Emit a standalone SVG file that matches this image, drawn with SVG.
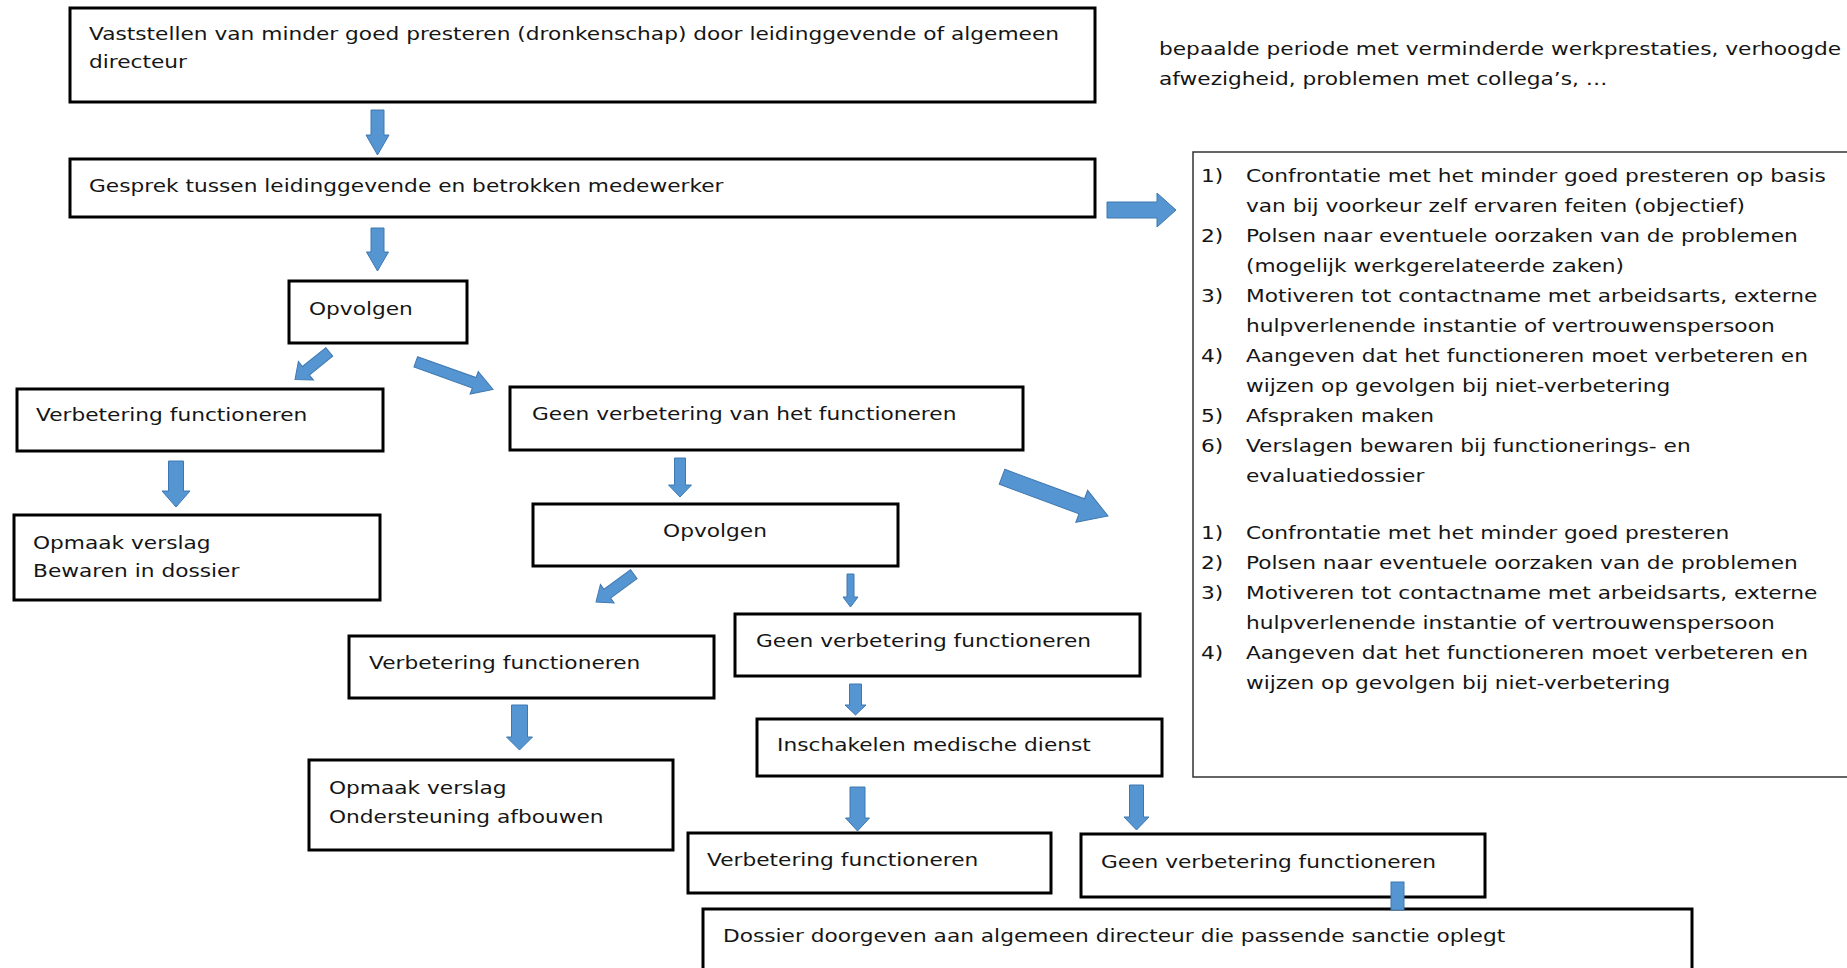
<svg xmlns="http://www.w3.org/2000/svg" width="1847" height="968" viewBox="0 0 1847 968">
<style>
.box{fill:#fff;stroke:#000;stroke-width:3}
.list{fill:#fff;stroke:#333;stroke-width:1.5}
.t{font-family:"DejaVu Sans",Verdana,sans-serif;font-size:17px;fill:#151515}
.arr{fill:#5595d2;stroke:#3f78b0;stroke-width:1}
</style>
<rect width="1847" height="968" fill="#fff"/>
<g id="nodes">
<g id="n-vaststellen"><rect class="box" x="70" y="8" width="1025" height="94"/>
<text class="t" transform="translate(89,0) scale(1.277,1)"><tspan x="0" y="40">Vaststellen van minder goed presteren (dronkenschap) door leidinggevende of algemeen</tspan><tspan x="0" y="68">directeur</tspan></text></g>
<g id="n-note"><text class="t" transform="translate(1159,0) scale(1.277,1)"><tspan x="0" y="55">bepaalde periode met verminderde werkprestaties, verhoogde</tspan><tspan x="0" y="85">afwezigheid, problemen met collega’s, …</tspan></text></g>
<g id="n-gesprek"><rect class="box" x="70" y="159" width="1025" height="58"/>
<text class="t" transform="translate(89,192) scale(1.277,1)">Gesprek tussen leidinggevende en betrokken medewerker</text></g>
<g id="n-list"><rect class="list" x="1193" y="152" width="700" height="625"/>
<text class="t" transform="translate(1201,0) scale(1.277,1)">
<tspan x="0" y="182">1)</tspan><tspan x="35.2" y="182">Confrontatie met het minder goed presteren op basis</tspan>
<tspan x="35.2" y="212">van bij voorkeur zelf ervaren feiten (objectief)</tspan>
<tspan x="0" y="242">2)</tspan><tspan x="35.2" y="242">Polsen naar eventuele oorzaken van de problemen</tspan>
<tspan x="35.2" y="272">(mogelijk werkgerelateerde zaken)</tspan>
<tspan x="0" y="302">3)</tspan><tspan x="35.2" y="302">Motiveren tot contactname met arbeidsarts, externe</tspan>
<tspan x="35.2" y="332">hulpverlenende instantie of vertrouwenspersoon</tspan>
<tspan x="0" y="362">4)</tspan><tspan x="35.2" y="362">Aangeven dat het functioneren moet verbeteren en</tspan>
<tspan x="35.2" y="392">wijzen op gevolgen bij niet-verbetering</tspan>
<tspan x="0" y="422">5)</tspan><tspan x="35.2" y="422">Afspraken maken</tspan>
<tspan x="0" y="452">6)</tspan><tspan x="35.2" y="452">Verslagen bewaren bij functionerings- en</tspan>
<tspan x="35.2" y="482">evaluatiedossier</tspan>
<tspan x="0" y="539">1)</tspan><tspan x="35.2" y="539">Confrontatie met het minder goed presteren</tspan>
<tspan x="0" y="569">2)</tspan><tspan x="35.2" y="569">Polsen naar eventuele oorzaken van de problemen</tspan>
<tspan x="0" y="599">3)</tspan><tspan x="35.2" y="599">Motiveren tot contactname met arbeidsarts, externe</tspan>
<tspan x="35.2" y="629">hulpverlenende instantie of vertrouwenspersoon</tspan>
<tspan x="0" y="659">4)</tspan><tspan x="35.2" y="659">Aangeven dat het functioneren moet verbeteren en</tspan>
<tspan x="35.2" y="689">wijzen op gevolgen bij niet-verbetering</tspan>
</text></g>
<g id="n-opvolgen1"><rect class="box" x="289" y="281" width="178" height="62"/>
<text class="t" transform="translate(309,315) scale(1.277,1)">Opvolgen</text></g>
<g id="n-verbetering1"><rect class="box" x="17" y="389" width="366" height="62"/>
<text class="t" transform="translate(36,421) scale(1.277,1)">Verbetering functioneren</text></g>
<g id="n-geen1"><rect class="box" x="510" y="387" width="513" height="63"/>
<text class="t" transform="translate(532,420) scale(1.277,1)">Geen verbetering van het functioneren</text></g>
<g id="n-opmaak1"><rect class="box" x="14" y="515" width="366" height="85"/>
<text class="t" transform="translate(33,0) scale(1.277,1)"><tspan x="0" y="549">Opmaak verslag</tspan><tspan x="0" y="577">Bewaren in dossier</tspan></text></g>
<g id="n-opvolgen2"><rect class="box" x="533" y="504" width="365" height="62"/>
<text class="t" text-anchor="middle" transform="translate(715,537) scale(1.277,1)">Opvolgen</text></g>
<g id="n-verbetering2"><rect class="box" x="349" y="636" width="365" height="62"/>
<text class="t" transform="translate(369,669) scale(1.277,1)">Verbetering functioneren</text></g>
<g id="n-geen2"><rect class="box" x="735" y="614" width="405" height="62"/>
<text class="t" transform="translate(756,647) scale(1.277,1)">Geen verbetering functioneren</text></g>
<g id="n-opmaak2"><rect class="box" x="309" y="760" width="364" height="90"/>
<text class="t" transform="translate(329,0) scale(1.277,1)"><tspan x="0" y="794">Opmaak verslag</tspan><tspan x="0" y="823">Ondersteuning afbouwen</tspan></text></g>
<g id="n-inschakelen"><rect class="box" x="757" y="719" width="405" height="57"/>
<text class="t" transform="translate(777,751) scale(1.277,1)">Inschakelen medische dienst</text></g>
<g id="n-verbetering3"><rect class="box" x="688" y="833" width="363" height="60"/>
<text class="t" transform="translate(707,866) scale(1.277,1)">Verbetering functioneren</text></g>
<g id="n-geen3"><rect class="box" x="1081" y="834" width="404" height="63"/>
<text class="t" transform="translate(1101,868) scale(1.277,1)">Geen verbetering functioneren</text></g>
<g id="n-dossier"><rect class="box" x="703" y="909" width="989" height="80"/>
<text class="t" transform="translate(723,942) scale(1.277,1)">Dossier doorgeven aan algemeen directeur die passende sanctie oplegt</text></g>
</g>
<g id="connectors">
<polygon class="arr" points="371,110 384,110 384,135 389,135 377.5,155 366,135 371,135"/>
<polygon class="arr" points="371,228 384,228 384,252 388.5,252 377.5,271 366.5,252 371,252"/>
<polygon class="arr" points="1107,202 1157,202 1157,193 1176,210 1157,227 1157,218 1107,218"/>
<polygon class="arr" transform="translate(295,379.5) rotate(141.2)" points="-44,-5.5 -14,-5.5 -14,-12 0,0 -14,12 -14,5.5 -44,5.5"/>
<polygon class="arr" transform="translate(493,389.5) rotate(19.7)" points="-82,-5.5 -20,-5.5 -20,-12 0,0 -20,12 -20,5.5 -82,5.5"/>
<polygon class="arr" points="168.5,461 183.5,461 183.5,491 190,491 176,507 162,491 168.5,491"/>
<polygon class="arr" points="674.5,458 685.5,458 685.5,485 691.5,485 680,497 668.5,485 674.5,485"/>
<polygon class="arr" transform="translate(1108,516) rotate(20.3)" points="-113,-8 -28,-8 -28,-17 0,0 -28,17 -28,8 -113,8"/>
<polygon class="arr" transform="translate(596,602) rotate(143.6)" points="-47,-5.5 -14,-5.5 -14,-11.5 0,0 -14,11.5 -14,5.5 -47,5.5"/>
<polygon class="arr" points="847,574 854,574 854,597 858,597 850.5,607 843,597 847,597"/>
<polygon class="arr" points="511.5,705 527.5,705 527.5,737 532.5,737 519.5,750 506.5,737 511.5,737"/>
<polygon class="arr" points="849.5,684 861.5,684 861.5,705 866,705 855.5,715 845,705 849.5,705"/>
<polygon class="arr" points="850,787 865,787 865,818 869.5,818 857.5,831 845.5,818 850,818"/>
<polygon class="arr" points="1129.5,785 1143.5,785 1143.5,817 1149,817 1136.5,830 1124,817 1129.5,817"/>
<rect class="arr" x="1391" y="882" width="13" height="28"/>
</g>
</svg>
